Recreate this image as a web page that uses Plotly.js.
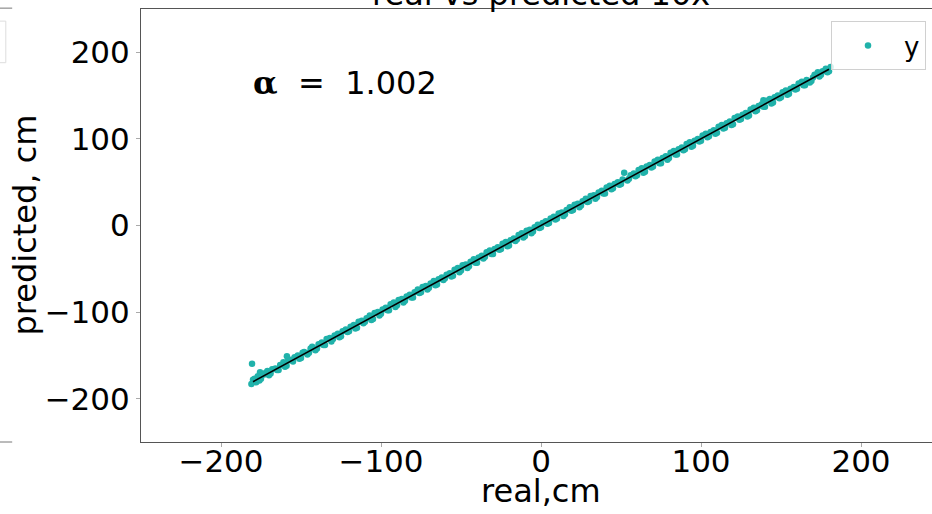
<!DOCTYPE html>
<html>
<head>
<meta charset="utf-8">
<script src="https://cdn.plot.ly/plotly-3.0.1.min.js"></script>
<style>
html,body{margin:0;padding:0;overflow:hidden;background:#fff;}
#chart{width:941px;height:514px;}
</style>
</head>
<body>
<div id="chart"></div>
<script>
// real values (cm), set A
var realX = [-181,-180,-178,-177,-175,-172,-170,-168,-165,-163,-160,-158,-155,-152,-150,-148,-145,-143,-140,-137,-135,-132,-130,-127,-125,-122,-120,-117,-115,-112,-110,-107,-105,-102,-100,-97,-95,-92,-90,-87,-85,-82,-80,-77,-75,-72,-70,-67,-65,-62,-60,-57,-55,-52,-50,-47,-45,-42,-40,-37,-35,-32,-30,-27,-25,-22,-20,-17,-15,-12,-10,-7,-5,-2,0,3,5,8,10,13,15,18,20,23,25,28,30,33,35,38,40,43,45,48,50,52,55,58,60,63,65,68,70,73,75,78,80,83,85,88,90,93,95,98,100,103,105,108,110,113,115,118,120,123,125,128,130,133,135,138,140,143,145,148,150,153,155,158,160,163,165,168,170,173,175,178,180,181,-180.6,-175.6,-158.8,139];
// predicted values (cm), set A
var predY = [-183,-178,-181,-174,-177,-170,-173,-166,-167,-161,-163,-156,-157,-150,-153,-146,-147,-140,-142,-135,-138,-130,-131,-125,-128,-120,-122,-115,-118,-110,-111,-104,-108,-100,-102,-95,-98,-89,-92,-85,-87,-80,-83,-74,-77,-70,-72,-64,-68,-60,-61,-55,-58,-49,-52,-45,-47,-39,-43,-35,-36,-29,-33,-25,-27,-19,-23,-15,-16,-9,-12,-5,-7,1,-2,5,3,10,8,15,13,21,18,25,23,31,28,35,33,40,37,46,43,50,48,61,54,60,58,66,62,70,68,76,72,80,78,86,82,90,88,96,92,100,98,106,103,110,107,116,113,120,117,126,123,130,127,136,133,140,137,146,142,150,148,156,152,160,158,166,162,165,171,177,174,181,178,183,-159.5,-169.6,-151,144.5];
// real values (cm), set B
var realX2 = [-179,-176,-173,-171,-169,-166,-164,-161,-159,-156,-154,-151,-149,-146,-144,-141,-139,-136,-134,-131,-129,-126,-124,-121,-119,-116,-114,-111,-109,-106,-104,-101,-99,-96,-94,-91,-89,-86,-84,-81,-79,-76,-74,-71,-69,-66,-64,-61,-59,-56,-54,-51,-49,-46,-44,-41,-39,-36,-34,-31,-29,-26,-24,-21,-19,-16,-14,-11,-9,-6,-4,-1,1,4,6,9,11,14,16,19,21,24,26,29,31,34,36,39,41,44,46,49,51,54,56,59,61,64,66,69,71,74,76,79,81,84,86,89,91,94,96,99,101,104,106,109,111,114,116,119,121,124,126,129,131,134,136,139,141,144,146,149,151,154,156,159,161,164,166,169,171,174,176,179];
// predicted values (cm), set B
var predY2 = [-177,-179,-172,-168,-171,-165,-167,-158,-162,-155,-152,-154,-147,-149,-142,-144,-137,-138,-131,-134,-127,-129,-122,-123,-117,-119,-111,-113,-107,-109,-101,-104,-97,-98,-91,-94,-86,-89,-82,-83,-77,-78,-71,-74,-67,-69,-62,-63,-57,-59,-51,-54,-46,-49,-42,-43,-37,-38,-31,-33,-27,-28,-21,-24,-17,-18,-11,-14,-6,-9,-2,-3,3,2,8,7,14,11,18,17,24,21,28,27,34,31,38,37,44,42,48,47,53,52,58,57,64,61,68,67,74,72,78,76,84,82,88,87,94,91,98,97,104,102,108,106,114,112,118,116,124,122,128,126,134,132,138,137,144,141,148,147,154,151,158,157,164,162,168,167,174,172,178,177];
// fitted line
var alpha = 1.002;
var fitX = [-180, 180];
var fitY = fitX.map(function(v){return alpha*v;});
var xTicks = [-200,-100,0,100,200];
var yTicks = [-200,-100,0,100,200];

var font = 'DejaVu Sans, sans-serif';
var traces = [
  {x: realX.concat(realX2), y: predY.concat(predY2), type: 'scatter', mode: 'markers', name: 'y',
   marker: {color: '#20b2aa', size: 6.5}, showlegend: true},
  {x: fitX, y: fitY, type: 'scatter', mode: 'lines', name: 'fit',
   line: {color: '#000', width: 1.6}, showlegend: false}
];
function lab(v){return v<0?'\u2212'+(-v):String(v);}
var axisCommon = {
  showgrid: false, zeroline: false, showline: true, linecolor: '#555', linewidth: 1,
  mirror: true, ticks: 'outside', ticklen: 4, tickcolor: '#aaa', tickwidth: 1,
  tickfont: {family: font, size: 31, color: '#000'}
};
var layout = {
  width: 941, height: 514,
  margin: {l: 141, r: 0, t: 9, b: 72, pad: 0},
  paper_bgcolor: '#fff', plot_bgcolor: '#fff',
  xaxis: Object.assign({}, axisCommon, {range: [-250, 250], tickvals: xTicks,
    ticktext: xTicks.map(lab), ticklabelstandoff: -12}),
  yaxis: Object.assign({}, axisCommon, {range: [-250, 250], tickvals: yTicks,
    ticktext: yTicks.map(lab), ticklabelstandoff: 0}),
  legend: {x: 0.8625, y: 0.972, xanchor: 'left', yanchor: 'top', bgcolor: 'rgba(255,255,255,0.8)',
    bordercolor: '#d0d0d0', borderwidth: 1, font: {family: font, size: 26, color: '#000'},
    itemwidth: 62},
  showlegend: true,
  annotations: [
    {xref: 'paper', yref: 'paper', x: 0.5, y: 1, yanchor: 'bottom', xanchor: 'center', yshift: -6,
     text: 'real vs predicted 10x', showarrow: false, font: {family: font, size: 32, color: '#000'}},
    {xref: 'paper', yref: 'paper', x: 0.5, y: 0, yanchor: 'middle', xanchor: 'center', yshift: -49,
     text: 'real,cm', showarrow: false, font: {family: font, size: 32, color: '#000'}},
    {xref: 'paper', yref: 'paper', x: 0, y: 0.5, yanchor: 'middle', xanchor: 'center', xshift: -117,
     textangle: -90, text: 'predicted, cm', showarrow: false, font: {family: font, size: 32, color: '#000'}},
    {xref: 'x', yref: 'y', x: -181, y: 164, xanchor: 'left', yanchor: 'middle',
     text: '<span style="font-family:DejaVu Serif;font-weight:bold">\u03b1</span>\u00a0\u00a0=\u00a0\u00a0' + alpha.toFixed(3),
     showarrow: false, font: {family: font, size: 32, color: '#000'}}
  ],
  shapes: [
    {type: 'line', xref: 'paper', yref: 'paper', x0: -0.18, x1: -0.161, y0: 1.002, y1: 1.002, line: {color: '#777', width: 1}},
    {type: 'line', xref: 'paper', yref: 'paper', x0: -0.18, x1: -0.161, y0: 0, y1: 0, line: {color: '#777', width: 1}},
    {type: 'rect', xref: 'paper', yref: 'paper', x0: -0.19, x1: -0.169, y0: 0.876, y1: 0.972, line: {color: '#ddd', width: 1}}
  ]
};
Plotly.newPlot('chart', traces, layout, {displayModeBar: false, staticPlot: true});
</script>
</body>
</html>
